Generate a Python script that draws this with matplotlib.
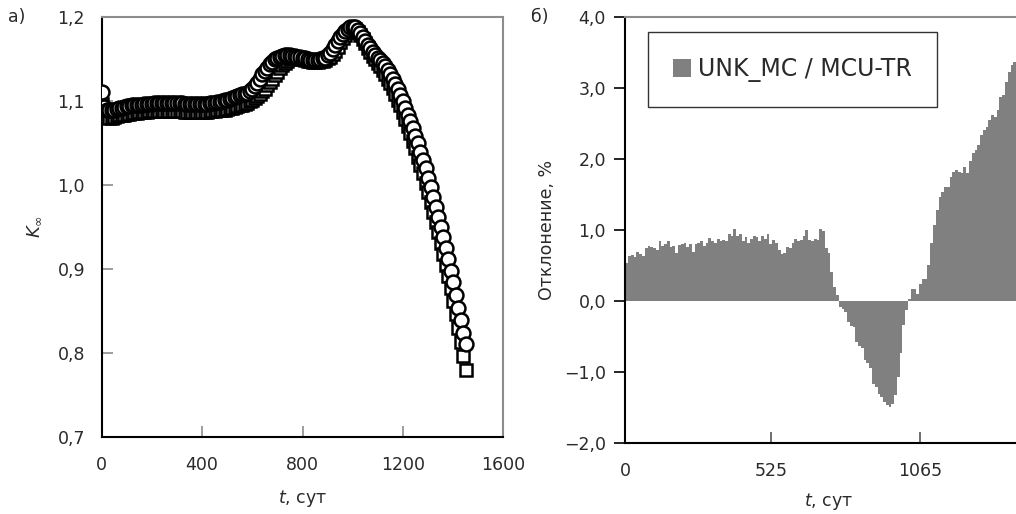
import matplotlib
matplotlib.use("Agg")
import matplotlib.pyplot as plt
from matplotlib.patches import Patch

plt.rcParams['font.family'] = ['DejaVu Sans']
plt.rcParams['mathtext.fontset'] = 'dejavusans'

# burnup time, days (10-day step)
t_days = list(range(0, 1460, 10))

# K-inf, two codes
k_circ = [
    1.111, 1.093, 1.090, 1.089, 1.089, 1.090, 1.091, 1.092, 1.092, 1.093,
    1.094, 1.094, 1.095, 1.095, 1.096, 1.096, 1.096, 1.097, 1.097, 1.097,
    1.097, 1.098, 1.098, 1.098, 1.098, 1.098, 1.098, 1.098, 1.098, 1.098,
    1.098, 1.098, 1.098, 1.097, 1.097, 1.097, 1.097, 1.097, 1.097, 1.097,
    1.097, 1.097, 1.097, 1.098, 1.098, 1.098, 1.099, 1.099, 1.100, 1.101,
    1.102, 1.103, 1.104, 1.105, 1.106, 1.107, 1.108, 1.109, 1.110, 1.112,
    1.114, 1.118, 1.122, 1.127, 1.132, 1.136, 1.140, 1.144, 1.147, 1.150,
    1.152, 1.153, 1.154, 1.155, 1.155, 1.155, 1.154, 1.154, 1.153, 1.153,
    1.152, 1.151, 1.150, 1.149, 1.149, 1.149, 1.149, 1.150, 1.151, 1.152,
    1.155, 1.158, 1.162, 1.167, 1.172, 1.176, 1.180, 1.184, 1.186, 1.188,
    1.189, 1.188, 1.185, 1.181, 1.177, 1.172, 1.167, 1.163, 1.159, 1.155,
    1.152, 1.149, 1.146, 1.142, 1.137, 1.132, 1.126, 1.120, 1.114, 1.107,
    1.100, 1.092, 1.084, 1.076, 1.068, 1.059, 1.050, 1.040, 1.030, 1.020,
    1.009, 0.998, 0.986, 0.974, 0.962, 0.950, 0.938, 0.925, 0.912, 0.898,
    0.884, 0.869, 0.854, 0.839, 0.824, 0.810,
]
k_sq = [
    1.097, 1.084, 1.081, 1.080, 1.080, 1.081, 1.082, 1.083, 1.084, 1.084,
    1.085, 1.085, 1.086, 1.086, 1.086, 1.087, 1.087, 1.087, 1.087, 1.088,
    1.088, 1.088, 1.088, 1.088, 1.088, 1.088, 1.088, 1.088, 1.088, 1.088,
    1.088, 1.088, 1.088, 1.087, 1.087, 1.087, 1.087, 1.087, 1.087, 1.087,
    1.087, 1.087, 1.087, 1.088, 1.088, 1.088, 1.089, 1.089, 1.090, 1.090,
    1.091, 1.092, 1.092, 1.093, 1.094, 1.095, 1.096, 1.097, 1.098, 1.100,
    1.102, 1.104, 1.106, 1.109, 1.112, 1.115, 1.119, 1.123, 1.127, 1.131,
    1.135, 1.139, 1.143, 1.146, 1.148, 1.150, 1.151, 1.151, 1.151, 1.150,
    1.150, 1.149, 1.148, 1.148, 1.147, 1.147, 1.147, 1.148, 1.148, 1.149,
    1.151, 1.153, 1.156, 1.160, 1.165, 1.170, 1.175, 1.179, 1.183, 1.185,
    1.187, 1.186, 1.183, 1.179, 1.174, 1.169, 1.164, 1.159, 1.154, 1.150,
    1.146, 1.142, 1.137, 1.132, 1.127, 1.122, 1.116, 1.109, 1.102, 1.095,
    1.087, 1.079, 1.071, 1.062, 1.053, 1.044, 1.034, 1.024, 1.014, 1.003,
    0.992, 0.980, 0.968, 0.956, 0.944, 0.931, 0.918, 0.905, 0.891, 0.877,
    0.862, 0.846, 0.830, 0.813, 0.796, 0.779,
]

# relative deviation UNK_MC / MCU-TR, %
dev = [
    0.53, 0.63, 0.65, 0.62, 0.69, 0.66, 0.63, 0.74, 0.77, 0.76,
    0.74, 0.72, 0.84, 0.78, 0.80, 0.84, 0.76, 0.78, 0.68, 0.79,
    0.80, 0.82, 0.76, 0.80, 0.69, 0.80, 0.81, 0.84, 0.78, 0.82,
    0.89, 0.84, 0.82, 0.88, 0.84, 0.86, 0.84, 0.94, 0.92, 1.01,
    0.92, 0.94, 0.85, 0.90, 0.82, 0.88, 0.92, 0.90, 0.84, 0.92,
    0.88, 0.94, 0.80, 0.86, 0.82, 0.72, 0.66, 0.68, 0.76, 0.74,
    0.82, 0.88, 0.84, 0.86, 0.92, 1.00, 0.86, 0.84, 0.88, 0.86,
    1.02, 0.99, 0.74, 0.67, 0.41, 0.20, 0.08, -0.08, -0.12, -0.16,
    -0.30, -0.35, -0.37, -0.58, -0.63, -0.66, -0.84, -0.88, -0.95, -1.17,
    -1.22, -1.31, -1.36, -1.42, -1.47, -1.50, -1.45, -1.33, -1.07, -0.74,
    -0.34, -0.13, 0.02, 0.17, 0.17, 0.10, 0.24, 0.31, 0.31, 0.50,
    0.81, 1.07, 1.28, 1.47, 1.54, 1.61, 1.61, 1.75, 1.82, 1.85,
    1.82, 1.80, 1.89, 1.80, 1.98, 2.08, 2.13, 2.20, 2.34, 2.41,
    2.46, 2.55, 2.62, 2.60, 2.69, 2.88, 2.90, 3.09, 3.23, 3.33,
    3.37, 3.45, 3.52, 3.58, 3.63, 3.68,
]

k_ticks = [0.7, 0.8, 0.9, 1.0, 1.1, 1.2]
t_ticks_a = [0, 400, 800, 1200, 1600]
dev_ticks = [-2.0, -1.0, 0.0, 1.0, 2.0, 3.0, 4.0]
t_ticks_b = [0, 525, 1065]


def comma(v, nd=1):
    s = f"{v:.{nd}f}".replace('.', ',')
    return s.replace('-', '\u2212')


fig = plt.figure(figsize=(10.16, 5.14), dpi=100)

# panel a
ax1 = fig.add_axes([0.1001, 0.1504, 0.3953, 0.8159])
ax1.plot(t_days, k_sq, ls='none', marker='s', ms=9.0, mfc='white',
         mec='black', mew=1.8, zorder=3)
ax1.plot(t_days, k_circ, ls='none', marker='o', ms=10.0, mfc='white',
         mec='black', mew=1.8, zorder=4)
ax1.set_xlim(0, 1600)
ax1.set_ylim(0.7, 1.2)
ax1.set_xticks(t_ticks_a)
ax1.set_xticklabels([str(v) for v in t_ticks_a])
ax1.set_yticks(k_ticks)
ax1.set_yticklabels([comma(v) for v in k_ticks])
ax1.tick_params(direction='in', length=8, width=1.2, color='#8c8c8c',
                labelsize=12.5, colors='#2a2a2a')
ax1.tick_params(axis='x', pad=14)
ax1.tick_params(axis='y', pad=12)
for s in ('left', 'bottom'):
    ax1.spines[s].set_color('black')
    ax1.spines[s].set_linewidth(1.5)
for s in ('top', 'right'):
    ax1.spines[s].set_color('#8c8c8c')
    ax1.spines[s].set_linewidth(1.5)
ax1.set_xlabel('$t$, сут', fontsize=12.5, labelpad=10, color='#2a2a2a')
ax1.set_ylabel(r'$K_\infty$', fontsize=13, labelpad=10, color='#2a2a2a')

# panel b
ax2 = fig.add_axes([0.6155, 0.1387, 0.3996, 0.8276])
ax2.bar(t_days, dev, width=10, align='edge', color='#808080', linewidth=0)
ax2.set_xlim(0, 1465)
ax2.set_ylim(-2.0, 4.0)
ax2.set_xticks(t_ticks_b)
ax2.set_xticklabels([str(v) for v in t_ticks_b])
ax2.set_yticks(dev_ticks)
ax2.set_yticklabels([comma(v) for v in dev_ticks])
ax2.tick_params(axis='y', direction='out', length=8, width=1.2,
                color='black', labelsize=12.5, labelcolor='#2a2a2a', pad=6)
ax2.tick_params(axis='x', direction='in', length=8, width=1.2,
                color='#555555', labelsize=12.5, labelcolor='#2a2a2a', pad=14)
for s in ('left', 'bottom'):
    ax2.spines[s].set_color('black')
    ax2.spines[s].set_linewidth(1.5)
for s in ('top', 'right'):
    ax2.spines[s].set_color('#8c8c8c')
    ax2.spines[s].set_linewidth(1.5)
ax2.set_xlabel('$t$, сут', fontsize=12.5, labelpad=8, color='#2a2a2a')
ax2.set_ylabel('Отклонение, %', fontsize=12.5, labelpad=6, color='#2a2a2a')

leg = ax2.legend(handles=[Patch(facecolor='#808080', edgecolor='none',
                                label='UNK_MC / MCU-TR')],
                 loc='upper left', bbox_to_anchor=(0.0567, 0.9655),
                 borderaxespad=0, fontsize=17, frameon=True, fancybox=False,
                 edgecolor='black', borderpad=1.05, handlelength=0.75,
                 handleheight=0.8, handletextpad=0.3)
leg.get_frame().set_linewidth(1.0)
for txt in leg.get_texts():
    txt.set_color('#2a2a2a')

fig.text(8 / 1016, 1 - 22 / 514, 'а)', fontsize=12.5, color='#2a2a2a')
fig.text(531 / 1016, 1 - 22 / 514, 'б)', fontsize=12.5, color='#2a2a2a')

fig.savefig('out.png', dpi=100)
